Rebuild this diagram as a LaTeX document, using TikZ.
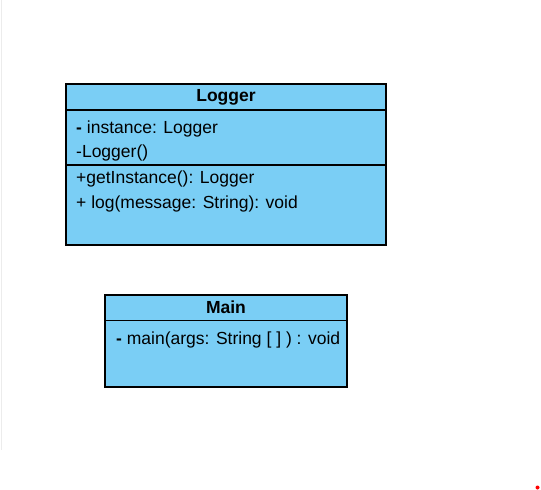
\documentclass[tikz,border=0pt]{standalone}
\usepackage{fontspec}
\setmainfont{Liberation Sans}
\definecolor{umlblue}{RGB}{122,206,245}
\definecolor{faint}{RGB}{236,236,236}
\begin{document}
\begin{tikzpicture}[x=1pt,y=-1pt,
  classbox/.style={draw=black,line width=1.1pt,fill=umlblue,rectangle,inner sep=0pt},
  divider/.style={draw=black,line width=1.1pt},
  title/.style={font=\fontsize{17.5}{20}\selectfont\bfseries,inner sep=0pt},
  member/.style={font=\fontsize{17.5}{20}\selectfont,inner sep=0pt,anchor=west}]
\useasboundingbox (0,0) rectangle (541,490);
\draw[faint,line width=1pt] (1.5,0) -- (1.5,450);
% Logger
\node[classbox,minimum width=320pt,minimum height=161pt] (logger) at (226,164.5) {};
\coordinate (l1w) at (66,110); \coordinate (l1e) at (386,110);
\coordinate (l2w) at (66,165); \coordinate (l2e) at (386,165);
\draw[divider] (l1w) -- (l1e);
\draw[divider] (l2w) -- (l2e);
\node[title] (loggertitle) at (226,97.5) {Logger};
\node[member] (la1) at (76,129) {\textbf{-} instance: Logger};
\node[member] (la2) at (76,153) {-Logger()};
\node[member] (lm1) at (76,179) {+getInstance(): Logger};
\node[member] (lm2) at (76,203.5) {+ log(message: String): void};
% Main
\node[classbox,minimum width=242pt,minimum height=92pt] (main) at (226,341) {};
\coordinate (m1w) at (105,320.5); \coordinate (m1e) at (347,320.5);
\draw[divider] (m1w) -- (m1e);
\node[title] (maintitle) at (226,307.5) {Main};
\node[member] (mm1) at (116,340) {\textbf{-} main(args: String [ ] ) : void};
% red dot
\fill[red] (537.5,487.5) circle (2pt);
\end{tikzpicture}
\end{document}
